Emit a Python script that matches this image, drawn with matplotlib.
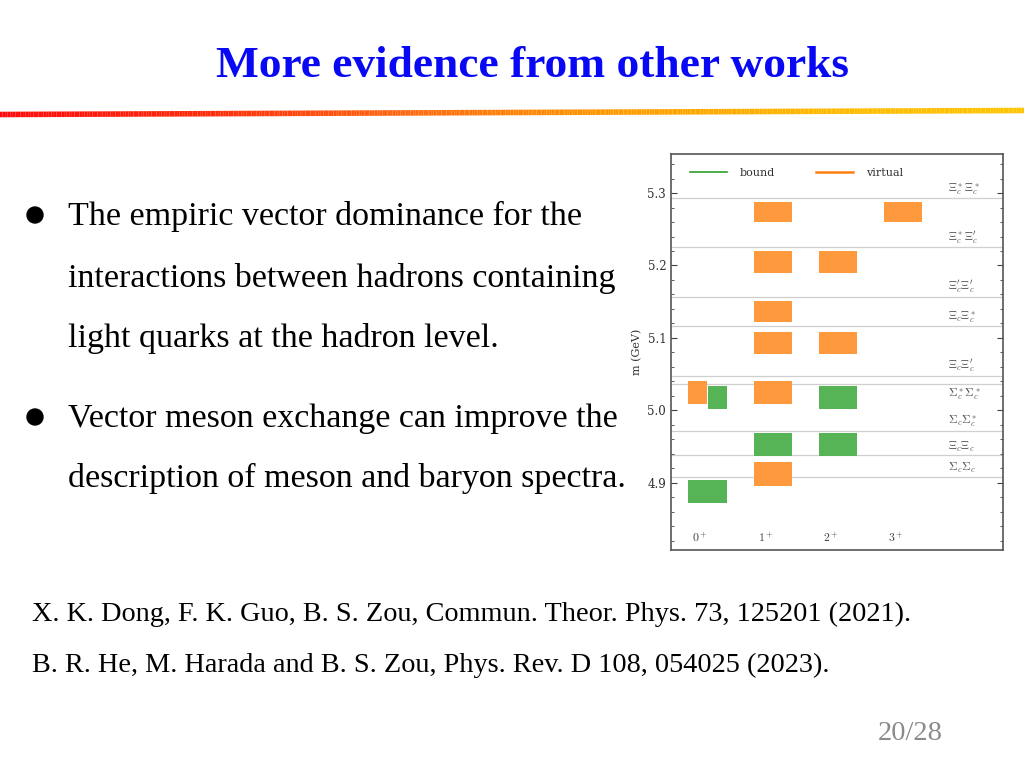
import numpy as np
import matplotlib
matplotlib.use("Agg")
import matplotlib.pyplot as plt
from matplotlib.collections import LineCollection
from matplotlib.colors import LinearSegmentedColormap
from matplotlib.patches import Circle
from matplotlib.ticker import MultipleLocator

# ---------------- data ----------------
title = "More evidence from other works"
bullets = [
    ["The empiric vector dominance for the",
     "interactions between hadrons containing",
     "light quarks at the hadron level."],
    ["Vector meson exchange can improve the",
     "description of meson and baryon spectra."],
]
references = [
    "X. K. Dong, F. K. Guo, B. S. Zou, Commun. Theor. Phys. 73, 125201 (2021).",
    "B. R. He, M. Harada and B. S. Zou, Phys. Rev. D 108, 054025 (2023).",
]
page_label = "20/28"

J_labels = [r"$0^+$", r"$1^+$", r"$2^+$", r"$3^+$"]

threshold_names = [r"$\Sigma_c\Sigma_c$", r"$\Xi_c\Xi_c$", r"$\Sigma_c\Sigma_c^*$",
                   r"$\Sigma_c^*\Sigma_c^*$", r"$\Xi_c\Xi_c'$", r"$\Xi_c\Xi_c^*$",
                   r"$\Xi_c'\Xi_c'$", r"$\Xi_c^*\Xi_c'$", r"$\Xi_c^*\Xi_c^*$"]
threshold_mass = [4.908, 4.938, 4.972, 5.036, 5.048, 5.116, 5.157, 5.225, 5.293]

# virtual states: J, lower mass, upper mass (GeV)
virtual_J    = [0,     1,     1,     1,     1,     1,     1,     2,     2,     3]
virtual_low  = [5.009, 4.896, 5.009, 5.078, 5.122, 5.190, 5.260, 5.078, 5.190, 5.260]
virtual_high = [5.040, 4.928, 5.040, 5.108, 5.151, 5.220, 5.288, 5.108, 5.220, 5.288]

# bound states: J, lower mass, upper mass (GeV)
bound_J    = [0,     0,     1,     2,     2]
bound_low  = [4.872, 5.002, 4.937, 4.937, 5.002]
bound_high = [4.904, 5.033, 4.968, 4.968, 5.033]

# ---------------- figure ----------------
fig = plt.figure(figsize=(10.24, 7.68), dpi=100)
W, H = 1024, 768

def fx(px):
    return px / W

def fy(py):
    return 1 - py / H

serif = ["Liberation Serif", "DejaVu Serif"]

# background axes in pixel coordinates
bg = fig.add_axes([0, 0, 1, 1], zorder=-1)
bg.set_xlim(0, W)
bg.set_ylim(H, 0)
bg.axis("off")

# title
fig.text(fx(533), fy(77), title, family=serif, fontsize=32.7, fontweight="bold",
         color="#0808f4", ha="center", va="baseline")

# gradient rule below title
xs = np.linspace(0, W, 400)
ys = 114.5 - 4.0 * xs / W
pts = np.array([xs, ys]).T.reshape(-1, 1, 2)
segs = np.concatenate([pts[:-1], pts[1:]], axis=1)
cmap = LinearSegmentedColormap.from_list(
    "rule", ["#ff0a0a", "#ff2a0a", "#ff6a10", "#ff9a00", "#ffb800", "#ffc400"])
lc = LineCollection(segs, cmap=cmap, linewidths=4.0, capstyle="butt")
lc.set_array(np.linspace(0, 1, len(segs)))
bg.add_collection(lc)

# bullets
line_y = [[225, 287, 347], [427, 487]]
for blk, ys_ in zip(bullets, line_y):
    bg.add_patch(Circle((35, ys_[0] - 10), 8, color="black"))
    for txt, yy in zip(blk, ys_):
        fig.text(fx(68), fy(yy), txt, family=serif, fontsize=24.5,
                 color="black", ha="left", va="baseline")

# references
for txt, yy in zip(references, [621, 672]):
    fig.text(fx(32), fy(yy), txt, family=serif, fontsize=20.3, color="black",
             ha="left", va="baseline")

fig.text(fx(878), fy(740), page_label, family=serif, fontsize=20.5, color="#8a8a8a",
         ha="left", va="baseline")

# ---------------- chart ----------------
plt.rcParams["mathtext.fontset"] = "cm"
ax = fig.add_axes([fx(671), fy(550), (1003 - 671) / W, (550 - 154) / H])
ax.set_xlim(-0.56, 4.53)
ax.set_ylim(4.807, 5.354)

orange = "#ff993e"
green = "#56b356"
full_w = 0.59
half_w = 0.283
shift = 0.153


def overlaps(j, lo, hi, others_J, others_lo, others_hi):
    return any(oj == j and olo < hi and ohi > lo
               for oj, olo, ohi in zip(others_J, others_lo, others_hi))


for j, lo, hi in zip(virtual_J, virtual_low, virtual_high):
    if overlaps(j, lo, hi, bound_J, bound_low, bound_high):
        ax.bar(j - shift, hi - lo, bottom=lo, width=half_w, color=orange, zorder=3)
    else:
        ax.bar(j, hi - lo, bottom=lo, width=full_w, color=orange, zorder=3)
for j, lo, hi in zip(bound_J, bound_low, bound_high):
    if overlaps(j, lo, hi, virtual_J, virtual_low, virtual_high):
        ax.bar(j + shift, hi - lo, bottom=lo, width=half_w, color=green, zorder=3)
    else:
        ax.bar(j, hi - lo, bottom=lo, width=full_w, color=green, zorder=3)

for k, (name, m) in enumerate(zip(threshold_names, threshold_mass)):
    ax.axhline(m, color="#cfcfcf", lw=0.9, zorder=1)
    # if the next threshold is too close above, put this label below its line
    crowded = k + 1 < len(threshold_mass) and threshold_mass[k + 1] - m < 0.02
    if crowded:
        ax.text(3.69, m - 0.003, name, fontsize=8.5, color="#505050",
                ha="left", va="top", zorder=4)
    else:
        ax.text(3.69, m + 0.002, name, fontsize=8.5, color="#505050",
                ha="left", va="bottom", zorder=4)

for i, lab in enumerate(J_labels):
    ax.text(i - 0.11, 4.8235, lab, fontsize=8.5, color="#404040",
            ha="center", va="center")

ax.plot([], [], color="#2ca02c", lw=1.2, label="bound")
ax.plot([], [], color="#ff7f0e", lw=1.8, label="virtual")
leg = ax.legend(loc="upper left", ncol=2, frameon=False, handlelength=3.3,
                columnspacing=3.7, handletextpad=1.2,
                prop={"family": "DejaVu Serif", "size": 8},
                bbox_to_anchor=(0.032, 0.985), borderaxespad=0.35)
for t in leg.get_texts():
    t.set_color("#303030")

ax.yaxis.set_major_locator(MultipleLocator(0.1))
ax.yaxis.set_minor_locator(MultipleLocator(0.02))
ax.set_xticks([])
ax.tick_params(axis="y", which="both", direction="in", left=True, right=True,
               labelsize=8.5, colors="#404040", labelcolor="#303030")
ax.tick_params(axis="y", which="major", length=4)
ax.tick_params(axis="y", which="minor", length=2)
for lab in ax.get_yticklabels():
    lab.set_family("DejaVu Serif")
ax.set_ylabel("m (GeV)", family="DejaVu Serif", fontsize=8, color="#303030",
              labelpad=4)
for sp in ax.spines.values():
    sp.set_color("#555555")
    sp.set_linewidth(1.2)

fig.savefig("out.png", dpi=100)
